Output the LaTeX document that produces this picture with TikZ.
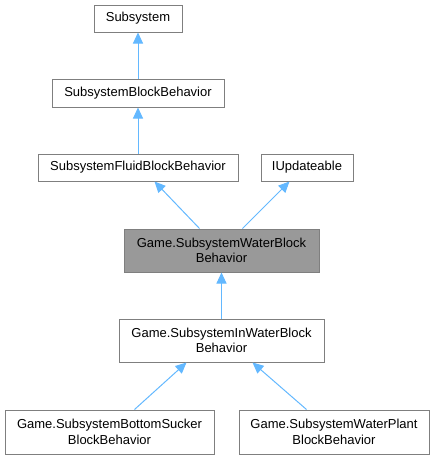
\documentclass[tikz,border=0pt]{standalone}
\usepackage{fontspec}
\setmainfont{Liberation Sans}
\usetikzlibrary{arrows.meta}
\definecolor{edgeblue}{HTML}{63B8FF}
\definecolor{boxgray}{HTML}{7F7F7F}
\definecolor{hlgray}{HTML}{999999}
\begin{document}
\begin{tikzpicture}[x=1pt,y=-1pt,
		cls/.style={draw=boxgray,fill=white,line width=1pt,inner sep=0pt,align=center,
			font=\fontsize{13}{15.5}\selectfont},
		cur/.style={cls,fill=hlgray},
		inh/.style={draw=edgeblue,line width=1pt,
			-{Triangle[width=10pt,length=11pt,fill=edgeblue]}}]
	\useasboundingbox (0,0) rectangle (435,459);
	\node[cls,minimum width=88pt,minimum height=27pt] (sub) at (138,18.5) {Subsystem};
	\node[cls,minimum width=172pt,minimum height=28pt] (sbb) at (138,93) {SubsystemBlockBehavior};
	\node[cls,minimum width=200pt,minimum height=27pt] (fluid) at (138,167.5) {SubsystemFluidBlockBehavior};
	\node[cls,minimum width=92pt,minimum height=27pt] (iupd) at (307,167.5) {IUpdateable};
	\node[cur,minimum width=195pt,minimum height=43pt] (wb) at (221.5,250.5) {Game.SubsystemWaterBlock\\Behavior};
	\node[cls,minimum width=205pt,minimum height=43pt] (inw) at (221.5,340.5) {Game.SubsystemInWaterBlock\\Behavior};
	\node[cls,minimum width=209pt,minimum height=44pt] (bs) at (109.5,432) {Game.SubsystemBottomSucker\\BlockBehavior};
	\node[cls,minimum width=190pt,minimum height=44pt] (wp) at (334,432) {Game.SubsystemWaterPlant\\BlockBehavior};
	% inheritance edges
	\draw[inh] (sbb.north) -- (sub.south);
	\draw[inh] (fluid.north) -- (sbb.south);
	\draw[inh] ([xshift=76pt]wb.north west) -- ([xshift=117pt]fluid.south west);
	\draw[inh] ([xshift=119pt]wb.north west) -- ([xshift=29pt]iupd.south west);
	\draw[inh] (inw.north) -- (wb.south);
	\draw[inh] ([xshift=130pt]bs.north west) -- ([xshift=68pt]inw.south west);
	\draw[inh] ([xshift=68pt]wp.north west) -- ([xshift=134pt]inw.south west);
\end{tikzpicture}
\end{document}
